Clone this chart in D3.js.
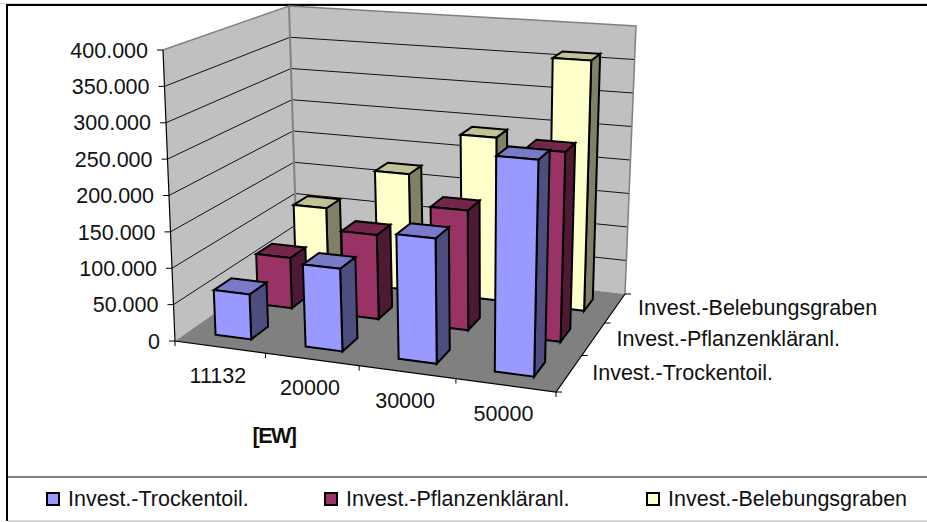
<!DOCTYPE html>
<html><head><meta charset="utf-8">
<script src="https://cdn.jsdelivr.net/npm/d3@7/dist/d3.min.js"></script>
<style>html,body{margin:0;padding:0;background:#fff}svg{display:block}text{font-family:"Liberation Sans",Arial,sans-serif;fill:#111}</style>
</head><body><svg id="c" width="927" height="522"></svg>
<script>
const categories = ["11132","20000","30000","50000"];
const seriesNames = ["Invest.-Trockentoil.","Invest.-Pflanzenkläranl.","Invest.-Belebungsgraben"];
const trockentoil = [62000,112000,167000,284000];
const pflanzen = [73000,120000,168000,262000];
const belebung = [110000,174000,240000,363000];
const valueTicks = [0,50000,100000,150000,200000,250000,300000,350000,400000];
const faceColors = ["#9999FF","#993366","#FFFFCC"];
const sideColors = ["#4D4D80","#4D1933","#808066"];
const topColors = ["#7A7AC8","#732649","#C2C299"];

const svg = d3.select("#c");
const W = 927, H = 522;

const floorQ = [[175,341],[556,392],[625,294],[297,256]];
const ceilQ  = [[163,50],[565,80],[636,26],[289,6]];
function homography(q){
  const [[x0,y0],[x1,y1],[x2,y2],[x3,y3]] = q;
  const dx1=x1-x2, dx2=x3-x2, sx=x0-x1+x2-x3, dy1=y1-y2, dy2=y3-y2, sy=y0-y1+y2-y3;
  const d=dx1*dy2-dx2*dy1, g=(sx*dy2-dx2*sy)/d, h=(dx1*sy-sx*dy1)/d;
  const a=x1-x0+g*x1,b=x3-x0+h*x3,c=x0,e=y1-y0+g*y1,f=y3-y0+h*y3,k=y0;
  return (u,v)=>{const w=g*u+h*v+1;return [(a*u+b*v+c)/w,(e*u+f*v+k)/w];};
}
const hF = homography(floorQ), hC = homography(ceilQ);
const y01 = d3.scaleLinear().domain([0,400000]).range([0,1]);
const xBand = d3.scaleBand().domain(categories).range([0,1]).paddingInner(0.6).paddingOuter(0.3);
const zBand = d3.scaleBand().domain(seriesNames).range([0,1]).paddingInner(0.6).paddingOuter(0.3);
const xStep = d3.scaleLinear().domain([0,categories.length]).range([0,1]);
const zStep = d3.scaleLinear().domain([0,seriesNames.length]).range([0,1]);
function P(u,v,val){const a=hF(u,v),b=hC(u,v),t=y01(val);return [a[0]+(b[0]-a[0])*t,a[1]+(b[1]-a[1])*t];}
const path = pts => d3.line()(pts)+"Z";
const fmt = d3.formatLocale({decimal:",",thousands:".",grouping:[3],currency:["","€"]}).format(",.0f");

svg.append("rect").attr("x",0).attr("y",3).attr("width",W).attr("height",1).attr("fill","#d4d4d4");
svg.append("rect").attr("x",6).attr("y",4).attr("width",W-6).attr("height",2).attr("fill","#000");
svg.append("rect").attr("x",6).attr("y",4).attr("width",2).attr("height",H-5).attr("fill","#000");
svg.append("rect").attr("x",8).attr("y",476).attr("width",W-8).attr("height",2).attr("fill","#808080");
svg.append("rect").attr("x",8).attr("y",520.5).attr("width",W-8).attr("height",1.5).attr("fill","#c8c8c8");

svg.append("path").attr("d",path([P(0,0,400000),P(0,1,400000),P(0,1,0),P(0,0,0)])).attr("fill","#C0C0C0");
svg.append("path").attr("d",path([P(0,1,400000),P(1,1,400000),P(1,1,0),P(0,1,0)])).attr("fill","#C0C0C0");
svg.append("path").attr("d",path([P(0,0,0),P(1,0,0),P(1,1,0),P(0,1,0)])).attr("fill","#808080");

const grid = svg.append("g").attr("fill","none").attr("stroke","#111").attr("stroke-width",1);
valueTicks.filter(v=>v>0&&v<400000).forEach(v=>{
  grid.append("path").attr("d",d3.line()([P(0,0,v),P(0,1,v),P(1,1,v)]));
});
const edges = svg.append("g").attr("fill","none").attr("stroke","#808080").attr("stroke-width",1.5);
edges.append("path").attr("d",d3.line()([P(0,0,400000),P(0,1,400000),P(1,1,400000),P(1,1,0)]));
edges.append("path").attr("d",d3.line()([P(0,1,400000),P(0,1,0)])).attr("stroke-width",2);

const axes = svg.append("g").attr("fill","none").attr("stroke","#000").attr("stroke-width",1);
axes.append("path").attr("d",d3.line()([P(0,0,400000),P(0,0,0),P(1,0,0),P(1,1,0)])).attr("stroke-width",1.2);
valueTicks.forEach(v=>{const p=P(0,0,v);axes.append("path").attr("d",d3.line()([[p[0]-6,p[1]],p]));});
d3.range(categories.length+1).forEach(i=>{const p=P(xStep(i),0,0);axes.append("path").attr("d",d3.line()([p,[p[0],p[1]+5]]));});
d3.range(seriesNames.length+1).forEach(i=>{const p=P(1,zStep(i),0);axes.append("path").attr("d",d3.line()([p,[p[0]+6,p[1]]]));});

const bars = svg.append("g").attr("stroke","#000").attr("stroke-width",2).attr("stroke-linejoin","miter");
const seriesValues = [trockentoil,pflanzen,belebung];
[2,1,0].forEach(s=>{
  const z0=zBand(seriesNames[s]), z1=z0+zBand.bandwidth();
  categories.forEach((c,i)=>{
    const x0=xBand(c), x1=x0+xBand.bandwidth(), v=seriesValues[s][i];
    bars.append("path").attr("fill",sideColors[s]).attr("d",path([P(x1,z0,0),P(x1,z1,0),P(x1,z1,v),P(x1,z0,v)]));
    bars.append("path").attr("fill",topColors[s]).attr("d",path([P(x0,z0,v),P(x1,z0,v),P(x1,z1,v),P(x0,z1,v)]));
    bars.append("path").attr("fill",faceColors[s]).attr("d",path([P(x0,z0,0),P(x1,z0,0),P(x1,z0,v),P(x0,z0,v)]));
  });
});

const FS = 21.5;
const yl = svg.append("g").attr("font-size",FS).attr("text-anchor","end");
valueTicks.forEach(v=>{const p=P(0,0,v);yl.append("text").attr("x",p[0]-15).attr("y",p[1]).attr("dy","0.36em").text(fmt(v));});
const xl = svg.append("g").attr("font-size",FS).attr("text-anchor","middle");
categories.forEach((c,i)=>{const p=P(xStep(i+0.5),0,0);xl.append("text").attr("x",p[0]-2).attr("y",p[1]+28).attr("dy","0.36em").text(c);});
const zl = svg.append("g").attr("font-size",FS);
seriesNames.forEach((n,i)=>{const p=P(1,zStep(i+0.5),0);zl.append("text").attr("x",p[0]+23).attr("y",p[1]-1).attr("dy","0.36em").text(n);});
svg.append("text").attr("x",274).attr("y",435).attr("dy","0.36em").attr("text-anchor","middle").attr("font-size",21.5).attr("font-weight","bold").attr("letter-spacing",-1.5).text("[EW]");

const legendX = [47,325,647];
const lg = svg.append("g");
seriesNames.forEach((n,i)=>{
  lg.append("rect").attr("x",legendX[i]).attr("y",493).attr("width",12).attr("height",12).attr("fill",faceColors[i]).attr("stroke","#000").attr("stroke-width",2);
  lg.append("text").attr("x",legendX[i]+21).attr("y",498.5).attr("dy","0.36em").attr("font-size",FS).text(n);
});
</script></body></html>
